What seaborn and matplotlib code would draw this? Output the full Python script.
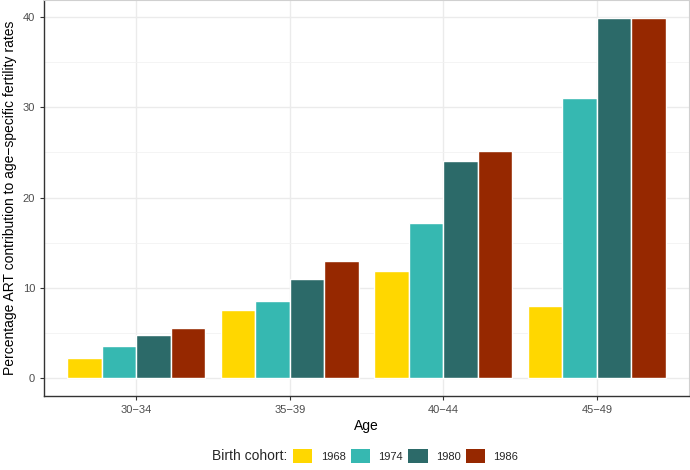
import numpy as np
import pandas as pd
import seaborn as sns
import matplotlib.pyplot as plt
from matplotlib.patches import Patch
from matplotlib.ticker import MultipleLocator

ages = ['30−34', '35−39', '40−44', '45−49']
cohorts = ['1968', '1974', '1980', '1986']
v1968 = [2.2, 7.5, 11.9, 8.0]
v1974 = [3.5, 8.5, 17.2, 31.0]
v1980 = [4.8, 11.0, 24.1, 39.9]
v1986 = [5.5, 13.0, 25.2, 39.9]
colors = ['#FFD700', '#36B8B1', '#2C6A69', '#962800']

df = pd.DataFrame({
    'age': ages * 4,
    'cohort': [c for c in cohorts for _ in ages],
    'value': v1968 + v1974 + v1980 + v1986,
})

sns.set_style('white')
plt.rcParams['font.family'] = ['Liberation Sans', 'DejaVu Sans']

fig = plt.figure(figsize=(6.9, 4.7), dpi=100)
ax = fig.add_axes([44 / 690, 74 / 470, 645 / 690, 396 / 470])

sns.barplot(data=df, x='age', y='value', hue='cohort', palette=colors,
            saturation=1, width=0.9, edgecolor='white', linewidth=1,
            ax=ax, legend=False, zorder=3)

ax.set_xlim(-0.6, 3.6)
ax.set_ylim(-2.0, 41.9)
ax.yaxis.set_major_locator(MultipleLocator(10))
ax.yaxis.set_minor_locator(MultipleLocator(5))
ax.grid(True, which='major', color='#EBEBEB', linewidth=1.0, zorder=0)
ax.grid(True, which='minor', axis='y', color='#F2F2F2', linewidth=0.6, zorder=0)
ax.set_axisbelow(True)

for s in ['top', 'right']:
    ax.spines[s].set_color('#D0D0D0')
    ax.spines[s].set_linewidth(0.8)
for s in ['left', 'bottom']:
    ax.spines[s].set_color('#333333')
    ax.spines[s].set_linewidth(1.0)

ax.tick_params(axis='both', which='major', length=3, width=0.8, color='#333333',
               labelsize=8, labelcolor='#4D4D4D', left=True, bottom=True)
ax.tick_params(axis='y', which='minor', length=0)
ax.set_xlabel('Age', fontsize=10, color='black', labelpad=3)
ax.set_ylabel('Percentage ART contribution to age−specific fertility rates',
              fontsize=10, color='black', labelpad=4)

# legend at the bottom, title on the left like ggplot
handles = [Patch(facecolor=c, edgecolor='none') for c in colors]
fig.text(287 / 690, 14 / 470, 'Birth cohort:', ha='right', va='center', fontsize=10)
fig.legend(handles, cohorts, loc='center left', bbox_to_anchor=(293 / 690, 14 / 470),
           ncol=4, frameon=False, fontsize=8, handlelength=1.75, handleheight=1.65,
           handletextpad=0.75, columnspacing=0.45, borderaxespad=0, borderpad=0)

fig.savefig('out.png', dpi=100)
